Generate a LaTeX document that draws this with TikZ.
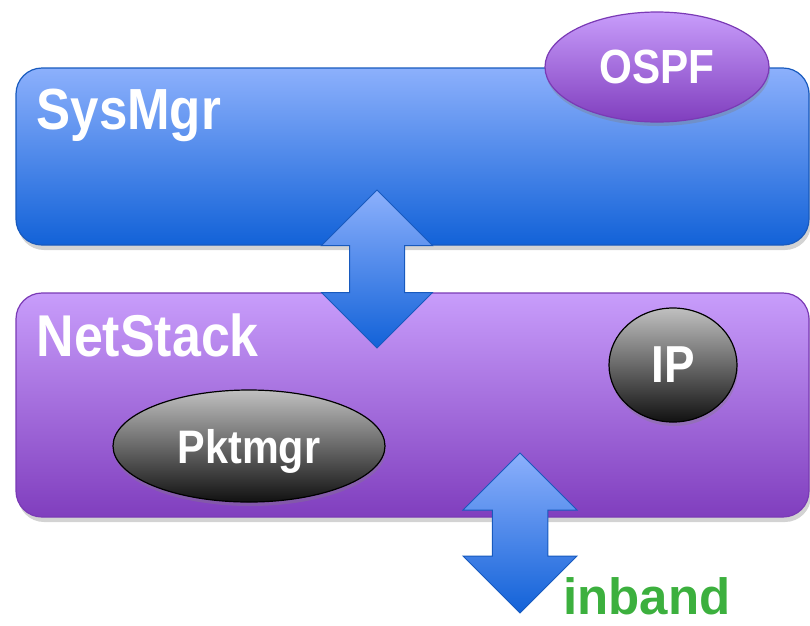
\documentclass[tikz,border=0pt]{standalone}
\usepackage{fontspec}
\usepackage{xcolor}
\usepackage{tikz}
\usetikzlibrary{shapes.geometric,shapes.arrows,shadows}
\newfontfamily\boldsans[FakeStretch=0.88]{Liberation Sans}
\newfontfamily\plainsans{Liberation Sans}
\newcommand{\lblfont}[1]{\boldsans\bfseries\fontsize{#1}{#1}\selectfont}
\definecolor{sysTop}{RGB}{140,176,252}
\definecolor{sysBot}{RGB}{18,98,216}
\definecolor{sysEdge}{RGB}{24,90,190}
\definecolor{netTop}{RGB}{200,157,251}
\definecolor{netBot}{RGB}{128,62,190}
\definecolor{netEdge}{RGB}{122,58,181}
\definecolor{grayTop}{RGB}{192,192,192}
\definecolor{grayBot}{RGB}{17,17,17}
\definecolor{inbandGreen}{RGB}{60,176,62}

\begin{document}
\begin{tikzpicture}[x=1pt,y=-1pt]
    \tikzstyle{layer}=[rectangle,rounded corners=26pt,line width=1.2pt,
      minimum width=793pt,inner sep=0pt,
      drop shadow={shadow xshift=2pt,shadow yshift=-5pt,opacity=.35}]
    \tikzstyle{blob}=[ellipse,draw,line width=1.2pt,inner sep=0pt,
      text depth=0pt,text=white,
      drop shadow={shadow xshift=1pt,shadow yshift=-4pt,opacity=.35}]
    \tikzstyle{title}=[text=white,inner sep=0pt,anchor=base west]
    \tikzstyle{updown}=[double arrow,rotate=90,draw=sysEdge,line width=1pt,
      top color=sysTop,bottom color=sysBot,inner xsep=0pt,inner ysep=27pt]
    \useasboundingbox (0,0) rectangle (810,625);
    % the two layers
    \node[layer,draw=sysEdge,top color=sysTop,bottom color=sysBot,
      minimum height=177pt] (sysmgr) at (412.5,156.5) {};
    \node[blob,draw=netEdge,top color=netTop,bottom color=netBot,
      minimum width=224pt,minimum height=110pt,font=\lblfont{48}]
      (ospf) at (657,67) {OSPF};
    \node[layer,draw=netEdge,top color=netTop,bottom color=netBot,
      minimum height=224pt] (netstack) at (412.5,405) {};
    \node[blob,top color=grayTop,bottom color=grayBot,
      minimum width=128pt,minimum height=114pt,font=\lblfont{52}]
      (ip) at (673,365) {IP};
    \node[blob,top color=grayTop,bottom color=grayBot,
      minimum width=272pt,minimum height=112pt,font=\lblfont{47}]
      (pktmgr) at (249,446) {Pktmgr};
    % links
    \node[updown,minimum height=158pt,minimum width=110pt,
      double arrow head extend=28pt] (link1) at (377,269) {};
    \node[updown,minimum height=160pt,minimum width=114pt,
      double arrow head extend=29pt] (link2) at (520,533) {};
    % labels
    \node[title,font=\lblfont{58}] (sysmgr-t)
      at ([shift={(21,62)}]sysmgr.north west) {SysMgr};
    \node[title,font=\lblfont{59}] (netstack-t)
      at ([shift={(21,64)}]netstack.north west) {NetStack};
    \node[anchor=base west,inner sep=0pt,text=inbandGreen,
      font=\plainsans\bfseries\fontsize{51}{51}\selectfont]
      (inband) at (563,614) {inband};
  \end{tikzpicture}
\end{document}
